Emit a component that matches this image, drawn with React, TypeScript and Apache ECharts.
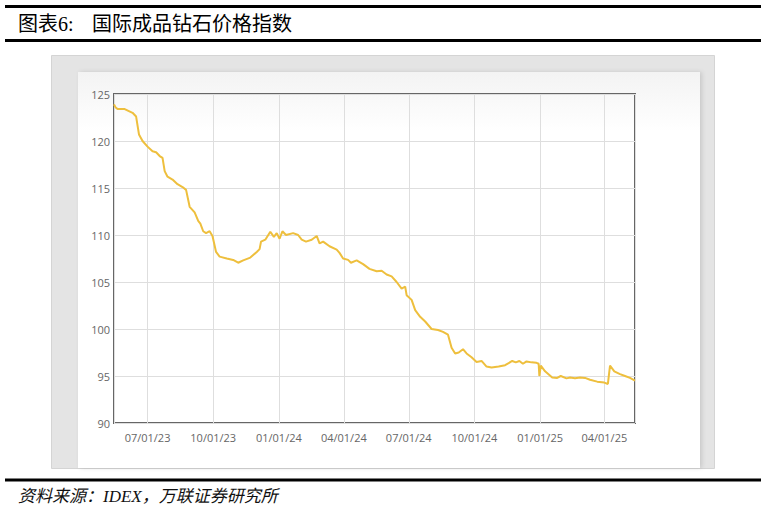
import React, { useEffect, useRef } from "react";
import * as echarts from "echarts";

const dates: string[] = [
  "2023-05-15","2023-05-17","2023-05-20","2023-05-30","2023-06-10","2023-06-15","2023-06-19","2023-06-24",
  "2023-07-01","2023-07-08","2023-07-13","2023-07-18","2023-07-22","2023-07-25","2023-07-29","2023-08-05",
  "2023-08-12","2023-08-19","2023-08-24","2023-08-29","2023-09-05","2023-09-10","2023-09-13","2023-09-17",
  "2023-09-21","2023-09-26","2023-09-30","2023-10-05","2023-10-10","2023-10-20","2023-10-29","2023-11-05",
  "2023-11-12","2023-11-22","2023-12-01","2023-12-05","2023-12-07","2023-12-13","2023-12-20","2023-12-25",
  "2023-12-29","2024-01-02","2024-01-06","2024-01-11","2024-01-21","2024-01-28","2024-02-02","2024-02-08",
  "2024-02-16","2024-02-23","2024-02-27","2024-03-03","2024-03-12","2024-03-22","2024-03-26","2024-03-31",
  "2024-04-07","2024-04-11","2024-04-19","2024-04-28","2024-05-07","2024-05-17","2024-05-24","2024-05-31",
  "2024-06-07","2024-06-14","2024-06-21","2024-06-26","2024-06-28","2024-07-05","2024-07-10","2024-07-17",
  "2024-07-24","2024-08-02","2024-08-11","2024-08-18","2024-08-25","2024-08-30","2024-09-04","2024-09-09",
  "2024-09-15","2024-09-20","2024-09-27","2024-10-04","2024-10-11","2024-10-18","2024-10-25","2024-11-04",
  "2024-11-13","2024-11-23","2024-11-28","2024-12-03","2024-12-08","2024-12-13","2024-12-20","2024-12-27",
  "2024-12-30","2024-12-31","2025-01-02","2025-01-08","2025-01-18","2025-01-25","2025-01-30","2025-02-07",
  "2025-02-12","2025-02-19","2025-02-26","2025-03-05","2025-03-12","2025-03-22","2025-04-01","2025-04-06",
  "2025-04-09","2025-04-15","2025-04-23","2025-04-30","2025-05-07","2025-05-14"
];

const indexValues: number[] = [
  123.9,123.6,123.4,123.4,123.0,122.6,120.7,120.0,
  119.4,118.9,118.8,118.4,118.2,116.8,116.2,115.9,
  115.4,115.1,114.8,113.0,112.4,111.5,111.2,110.4,
  110.2,110.4,109.9,108.2,107.7,107.5,107.35,107.05,
  107.3,107.6,108.2,108.5,109.3,109.5,110.35,109.8,
  110.2,109.6,110.4,110.0,110.2,110.0,109.5,109.3,
  109.5,109.9,109.1,109.3,108.8,108.45,108.1,107.5,
  107.35,107.05,107.3,106.9,106.4,106.15,106.2,105.8,
  105.6,105.0,104.3,104.5,103.6,103.1,102.0,101.3,
  100.8,100.0,99.9,99.7,99.4,98.0,97.4,97.5,
  97.85,97.4,97.0,96.5,96.6,96.0,95.9,96.0,
  96.15,96.6,96.45,96.6,96.3,96.55,96.45,96.4,
  96.3,95.0,96.1,95.5,94.85,94.8,95.0,94.75,
  94.85,94.75,94.85,94.8,94.6,94.4,94.3,94.15,
  96.1,95.5,95.2,95.0,94.8,94.5
];

const axisStart = "2023-05-15";
const axisEnd = "2025-05-14";
const yMin = 90;
const yMax = 125;
const yStep = 5;

const titleLabel = "图表6:";
const titleText = "国际成品钻石价格指数";
const sourceText = "资料来源：IDEX，万联证券研究所";

function pad(n: number) {
  return n < 10 ? "0" + n : String(n);
}

export default function App() {
  const ref = useRef<HTMLDivElement>(null);
  useEffect(() => {
    if (!ref.current) return;
    const chart = echarts.init(ref.current, null, { renderer: "svg" });
    const seriesData = dates.map((d, i) => [d, indexValues[i]]);
    const cjkSerif = '"Liberation Serif", "Noto Sans CJK SC", serif';
    chart.setOption({
      animation: false,
      backgroundColor: "#ffffff",
      graphic: [
        { type: "rect", z: -10, shape: { x: 5, y: 5, width: 756, height: 3 }, style: { fill: "#000" } },
        { type: "text", z: -10, x: 18, y: 24, style: { text: titleLabel, font: '20px ' + cjkSerif, fill: "#000", verticalAlign: "middle" } },
        { type: "text", z: -10, x: 92, y: 24, style: { text: titleText, font: '20px ' + cjkSerif, fill: "#000", verticalAlign: "middle" } },
        { type: "rect", z: -10, shape: { x: 5, y: 39, width: 756, height: 3 }, style: { fill: "#000" } },
        { type: "rect", z: -10, shape: { x: 51.5, y: 55.5, width: 663, height: 413 }, style: { fill: "#e4e4e4", stroke: "#d4d4d4", lineWidth: 1 } },
        {
          type: "rect", z: -9, shape: { x: 78, y: 72, width: 622, height: 396 },
          style: {
            fill: new echarts.graphic.LinearGradient(0, 0, 0, 1, [
              { offset: 0, color: "#f3f3f3" },
              { offset: 0.15, color: "#ffffff" },
              { offset: 1, color: "#ffffff" }
            ]),
            shadowBlur: 4, shadowColor: "rgba(0,0,0,0.12)", shadowOffsetX: 2
          }
        },
        { type: "rect", z: -10, shape: { x: 5, y: 478.5, width: 756, height: 3 }, style: { fill: "#000" } },
        { type: "text", z: -10, x: 18, y: 496, style: { text: sourceText, font: 'italic 17px ' + cjkSerif, fill: "#111", verticalAlign: "middle" } }
      ],
      grid: {
        left: 114, top: 94, right: 131, bottom: 89,
        show: true, borderColor: "#666", borderWidth: 2, backgroundColor: "transparent"
      },
      xAxis: {
        type: "time",
        min: axisStart,
        max: axisEnd,
        splitNumber: 8,
        minInterval: 89 * 86400000,
        axisLine: { show: false },
        axisTick: { show: false },
        splitLine: { show: true, lineStyle: { color: "#dedede", width: 1 } },
        axisLabel: {
          color: "#666",
          fontSize: 11,
          fontFamily: '"Open Sans", "Noto Sans", sans-serif',
          margin: 9,
          hideOverlap: false,
          formatter: (val: number) => {
            const d = new Date(val);
            return pad(d.getMonth() + 1) + "/" + pad(d.getDate()) + "/" + pad(d.getFullYear() % 100);
          }
        }
      },
      yAxis: {
        type: "value",
        min: yMin,
        max: yMax,
        interval: yStep,
        axisLine: { show: false },
        axisTick: { show: false },
        splitLine: { show: true, lineStyle: { color: "#dedede", width: 1 } },
        axisLabel: {
          color: "#666",
          fontSize: 11,
          fontFamily: '"Open Sans", "Noto Sans", sans-serif',
          margin: 4
        }
      },
      series: [
        {
          type: "line",
          data: seriesData,
          showSymbol: false,
          symbol: "none",
          lineStyle: { color: "#eebf3d", width: 2 },
          z: 3
        }
      ]
    });
    return () => chart.dispose();
  }, []);
  return <div ref={ref} style={{ position: "absolute", left: 0, top: 0, width: 766, height: 512 }} />;
}
